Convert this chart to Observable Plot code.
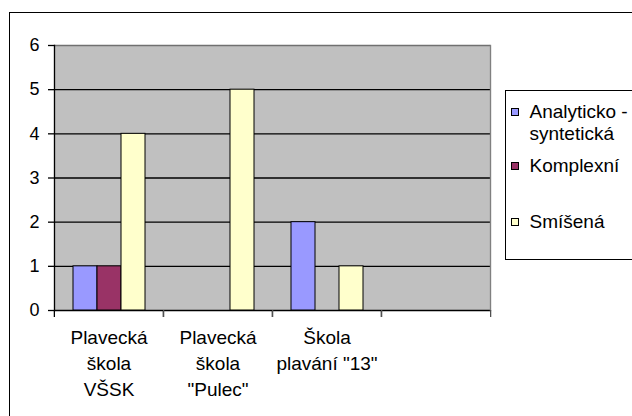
<!DOCTYPE html>
<html>
<head>
<meta charset="utf-8">
<script src="https://cdn.jsdelivr.net/npm/d3@7"></script>
<script src="https://cdn.jsdelivr.net/npm/@observablehq/plot@0.6"></script>
<style>
  html, body { margin: 0; padding: 0; background: white; overflow: hidden; }
  #wrap { position: relative; width: 632px; height: 416px; overflow: hidden; font-family: 'Liberation Sans', Arial, sans-serif; }
  #outer { position: absolute; left: 9px; top: 12px; width: 700px; height: 500px; border-left: 1.5px solid black; border-top: 1.5px solid black; }
  #chart { position: absolute; left: 0; top: 0; }
  #legend { position: absolute; left: 505px; top: 90px; width: 160px; height: 168px; border: 1.5px solid black; background: white; }
  .entry { position: absolute; left: 4.5px; display: flex; align-items: flex-start; font-size: 19px; line-height: 22px; color: black; white-space: nowrap; }
  .sw { width: 6px; height: 6px; border: 1px solid black; margin-top: 7px; margin-right: 11px; flex: none; }
  .lbl { text-align: left; }
</style>
</head>
<body>
<div id="wrap">
  <div id="outer"></div>
  <div id="chart"></div>
  <div id="legend"></div>
</div>
<script>
const categories = ["Plavecká\nškola\nVŠSK", "Plavecká\nškola\n\"Pulec\"", "Škola\nplavání \"13\"", " "];
const series = ["Analyticko - syntetická", "Komplexní", "Smíšená"];
const legendLabels = ["Analyticko -<br>syntetická", "Komplexní", "Smíšená"];
const analyticko = [1, 0, 2, 0];
const komplexni = [1, 0, 0, 0];
const smisena = [4, 5, 1, 0];
const colors = ["#9999FF", "#993366", "#FFFFCC"];
const yTicks = [0, 1, 2, 3, 4, 5, 6];

const rows = [];
[analyticko, komplexni, smisena].forEach((vals, si) =>
  vals.forEach((v, ci) => rows.push({category: categories[ci], series: series[si], value: v})));

const W = 632, H = 416, mL = 53, mR = 142, mT = 45, mB = 106;
const step = (W - mL - mR) / categories.length;

const chart = Plot.plot({
  width: W, height: H,
  marginLeft: mL, marginRight: mR, marginTop: mT, marginBottom: mB,
  style: {fontFamily: "'Liberation Sans', Arial, sans-serif", fontSize: "18px", color: "black", background: "transparent", overflow: "visible"},
  facet: {data: rows, x: "category"},
  fx: {domain: categories, padding: 0, axis: null, label: null},
  x: {domain: series, paddingInner: 0, paddingOuter: 0.72, axis: null},
  y: {domain: [0, 6], axis: null, label: null},
  color: {domain: series, range: colors},
  marks: [
    Plot.frame({fill: "#C0C0C0", stroke: null, insetLeft: -0.6, insetRight: -0.6}),
    Plot.gridY(yTicks.slice(0, -1), {stroke: "black", strokeOpacity: 1, strokeWidth: 1.3}),
    Plot.gridY([6], {stroke: "#707070", strokeOpacity: 1, strokeWidth: 1.3}),
    Plot.barY(rows, {x: "series", y: "value", fill: "series", stroke: "black", strokeWidth: 1, filter: d => d.value > 0}),
    Plot.frame({anchor: "left", facetAnchor: "left", stroke: "black", strokeWidth: 1.3}),
    Plot.frame({anchor: "right", facetAnchor: "right", stroke: "#808080", strokeWidth: 1.3}),
    Plot.axisY(yTicks, {label: null, tickSize: 6, tickPadding: 9, fontSize: 18, stroke: "black", strokeWidth: 1.3}),
    Plot.axisFx({anchor: "bottom", label: null, tickSize: 7, dx: -step / 2, text: null, stroke: "black", strokeWidth: 1.3}),
    Plot.axisFx([categories[categories.length - 1]], {anchor: "bottom", label: null, tickSize: 7, dx: step / 2, text: null, stroke: "#505050", strokeWidth: 1.3}),
    Plot.axisFx({anchor: "bottom", label: null, tickSize: 0, tickPadding: 15, fontSize: 19, lineHeight: 1.37})
  ]
});
document.getElementById("chart").appendChild(chart);

const legend = document.getElementById("legend");
const tops = [9.5, 63.5, 120];
series.forEach((s, i) => {
  const e = document.createElement("div");
  e.className = "entry";
  e.style.top = tops[i] + "px";
  e.innerHTML = `<div class="sw" style="background:${colors[i]}"></div><div class="lbl">${legendLabels[i]}</div>`;
  legend.appendChild(e);
});
</script>
</body>
</html>
